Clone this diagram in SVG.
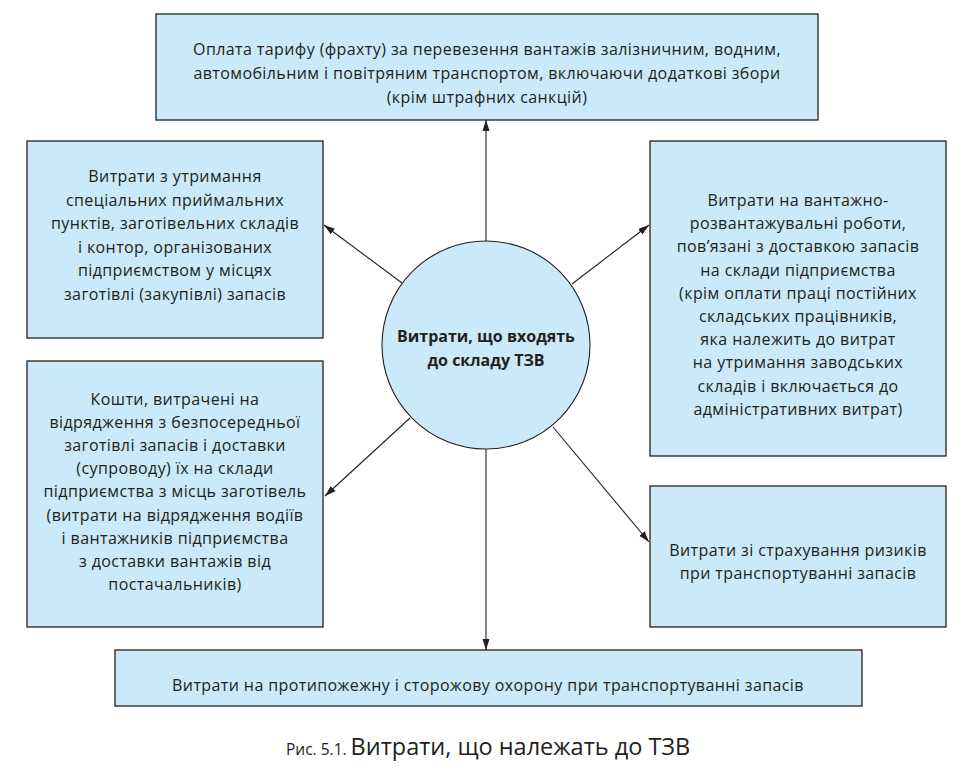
<svg xmlns="http://www.w3.org/2000/svg" width="974" height="775" viewBox="0 0 974 775">
<style>
.box{fill:#cbe9f8;stroke:#231f20;stroke-width:1.3}
.t{font-family:"Open Sans","Noto Sans",sans-serif;font-size:16px;letter-spacing:0.4px;fill:#231f20;text-anchor:middle}
.b{font-weight:bold;letter-spacing:0}
.c{stroke:#231f20;stroke-width:1.1;fill:none}
</style>
<defs>
<marker id="ah" markerUnits="userSpaceOnUse" markerWidth="12" markerHeight="8" refX="11" refY="4" orient="auto">
<path d="M0,0.5 L11,4 L0,7.5 z" fill="#231f20"/>
</marker>
</defs>
<rect width="974" height="775" fill="#ffffff"/>
<g id="connectors">
<line class="c" x1="486" y1="241" x2="486" y2="120" marker-end="url(#ah)"/>
<line class="c" x1="486" y1="449" x2="486" y2="650" marker-end="url(#ah)"/>
<line class="c" x1="402" y1="283" x2="324" y2="225" marker-end="url(#ah)"/>
<line class="c" x1="572" y1="284" x2="649" y2="225" marker-end="url(#ah)"/>
<line class="c" x1="410" y1="418" x2="325" y2="496" marker-end="url(#ah)"/>
<line class="c" x1="553" y1="427" x2="649" y2="542" marker-end="url(#ah)"/>
</g>
<g id="top">
<rect class="box" x="156" y="14" width="662" height="106"/>
<text class="t" x="487" y="55">Оплата тарифу (фрахту) за перевезення вантажів залізничним, водним,</text>
<text class="t" x="487" y="79">автомобільним і повітряним транспортом, включаючи додаткові збори</text>
<text class="t" x="487" y="103">(крім штрафних санкцій)</text>
</g>
<g id="left-top">
<rect class="box" x="27" y="141" width="296" height="197"/>
<text class="t" x="175" y="182">Витрати з утримання</text>
<text class="t" x="175" y="205.5">спеціальних приймальних</text>
<text class="t" x="175" y="229">пунктів, заготівельних складів</text>
<text class="t" x="175" y="252.5">і контор, організованих</text>
<text class="t" x="175" y="276">підприємством у місцях</text>
<text class="t" x="175" y="299.5">заготівлі (закупівлі) запасів</text>
</g>
<g id="right-top">
<rect class="box" x="650" y="141" width="296" height="315"/>
<text class="t" x="798" y="206">Витрати на вантажно-</text>
<text class="t" x="798" y="229.2">розвантажувальні роботи,</text>
<text class="t" x="798" y="252.4">пов’язані з доставкою запасів</text>
<text class="t" x="798" y="275.6">на склади підприємства</text>
<text class="t" x="798" y="298.8">(крім оплати праці постійних</text>
<text class="t" x="798" y="322">складських працівників,</text>
<text class="t" x="798" y="345.2">яка належить до витрат</text>
<text class="t" x="798" y="368.4">на утримання заводських</text>
<text class="t" x="798" y="391.6">складів і включається до</text>
<text class="t" x="798" y="414.8">адміністративних витрат)</text>
</g>
<g id="left-bottom">
<rect class="box" x="27" y="361" width="296" height="266"/>
<text class="t" x="175" y="405">Кошти, витрачені на</text>
<text class="t" x="175" y="428.1">відрядження з безпосередньої</text>
<text class="t" x="175" y="451.2">заготівлі запасів і доставки</text>
<text class="t" x="175" y="474.3">(супроводу) їх на склади</text>
<text class="t" x="175" y="497.4">підприємства з місць заготівель</text>
<text class="t" x="175" y="520.5">(витрати на відрядження водіїв</text>
<text class="t" x="175" y="543.6">і вантажників підприємства</text>
<text class="t" x="175" y="566.7">з доставки вантажів від</text>
<text class="t" x="175" y="589.8">постачальників)</text>
</g>
<g id="right-bottom">
<rect class="box" x="650" y="486" width="296" height="141"/>
<text class="t" x="798" y="556">Витрати зі страхування ризиків</text>
<text class="t" x="798" y="579">при транспортуванні запасів</text>
</g>
<g id="bottom">
<rect class="box" x="115" y="650" width="747" height="56"/>
<text class="t" x="488" y="691">Витрати на протипожежну і сторожову охорону при транспортуванні запасів</text>
</g>
<g id="center">
<circle cx="486" cy="345" r="104" fill="#cbe9f8" stroke="#231f20" stroke-width="1.1"/>
<text class="t b" x="486" y="342">Витрати, що входять</text>
<text class="t b" x="486" y="366">до складу ТЗВ</text>
</g>
<g id="caption">
<text x="286" y="755" font-family="'Open Sans','Noto Sans',sans-serif" fill="#231f20"><tspan font-size="15.5">Рис. 5.1. </tspan><tspan font-size="23.5">Витрати, що належать до ТЗВ</tspan></text>
</g>
</svg>
